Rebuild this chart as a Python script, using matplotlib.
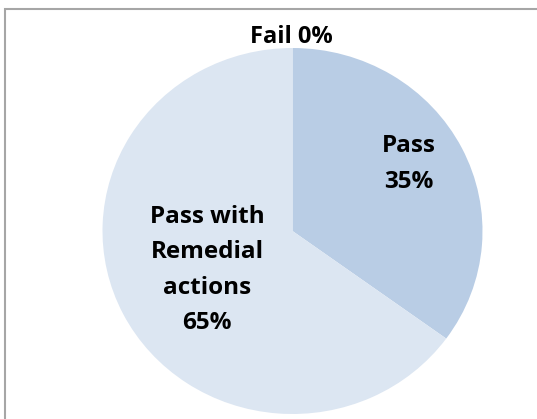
import matplotlib
matplotlib.use("Agg")
import matplotlib.pyplot as plt
from matplotlib.patches import Rectangle

categories = ["Pass", "Pass with\nRemedial\nactions", "Fail"]
values = [35, 65, 0]
colors = ["#B9CDE5", "#DCE6F2", "#E6B9B8"]
label_pos = [(0.613, 0.366), (-0.45, -0.213), (-0.008, 1.06)]

W, H = 537, 419
fig = plt.figure(figsize=(W / 100, H / 100), dpi=100)

# outer frame
fig.patches.append(Rectangle((5 / W, -0.1), 1.2, (H - 9) / H + 0.1,
                             transform=fig.transFigure, fill=False,
                             edgecolor="#A6A6A6", linewidth=1.5))

cx, cy, rx, ry = 292.5, 231, 190, 183
ax = fig.add_axes([(cx - rx) / W, (H - cy - ry) / H, 2 * rx / W, 2 * ry / H])
ax.pie(values, colors=colors, startangle=90, counterclock=False,
       radius=1, wedgeprops=dict(linewidth=0))
ax.set_aspect("auto")
ax.set_xlim(-1, 1)
ax.set_ylim(-1, 1)
ax.axis("off")

for cat, v, (x, y) in zip(categories, values, label_pos):
    sep = " " if v == 0 else "\n"
    fs = 17 if v == 0 else 17.5
    ax.text(x, y, f"{cat}{sep}{v}%", ha="center", va="center",
            fontsize=fs, fontweight="bold", family=["Open Sans", "DejaVu Sans"],
            linespacing=1.62, color="black", clip_on=False)

fig.savefig("out.png", dpi=100)
